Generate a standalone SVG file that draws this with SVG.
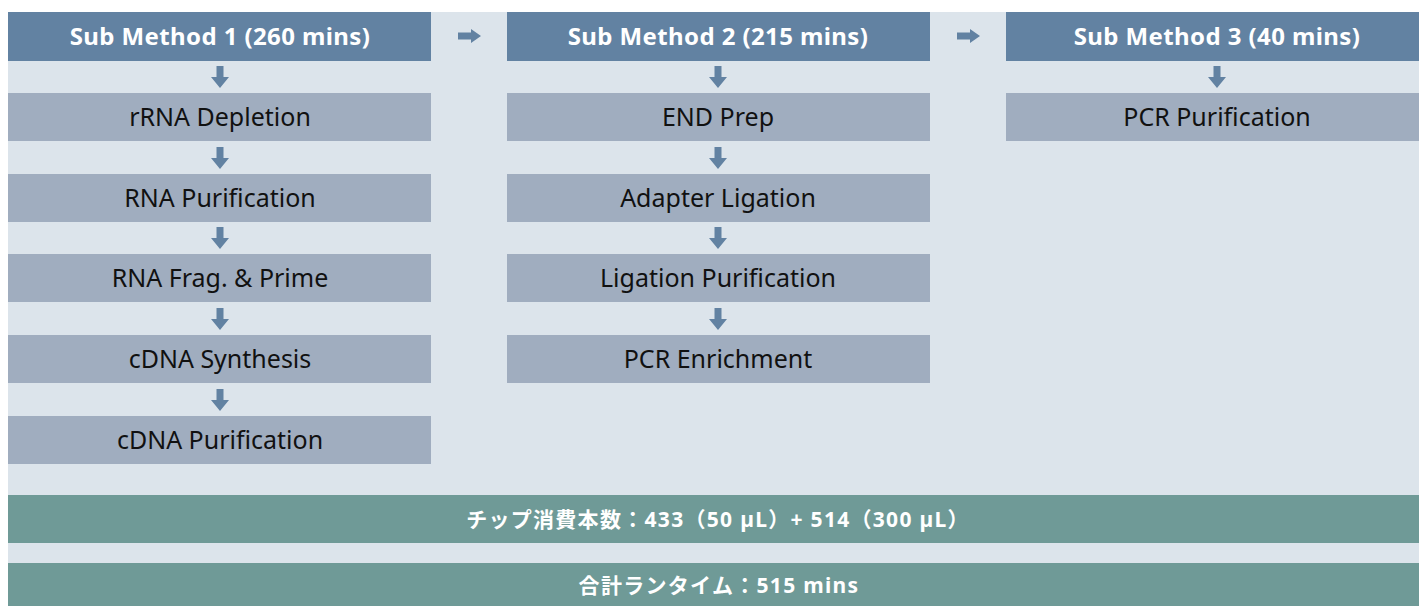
<svg xmlns="http://www.w3.org/2000/svg" width="1419" height="606" viewBox="0 0 1419 606">
<style>
.bg{fill:#dce4eb}
.hd{fill:#6282a2}
.st{fill:#a0adbf}
.tl{fill:#6f9a97}
.ar{fill:#6282a2}
.ht{font-family:"Noto Sans","Noto Sans CJK JP",sans-serif;font-weight:bold;font-size:24px;letter-spacing:0.4px;fill:#ffffff;text-anchor:middle}
.sx{font-family:"Noto Sans","Noto Sans CJK JP",sans-serif;font-size:25px;fill:#111111;text-anchor:middle}
.bt{font-family:"Noto Sans","Noto Sans CJK JP",sans-serif;font-weight:bold;font-size:21px;letter-spacing:1.3px;fill:#ffffff;text-anchor:middle}
</style>
<defs>
<path id="da" class="ar" d="M-3.5,-22 H3.5 V-11 H9 L0,0 L-9,-11 H-3.5 Z"/>
<path id="ra" class="ar" d="M0,-3.5 H13 V-7 L23,0 L13,7 V3.5 H0 Z"/>
</defs>
<rect width="1419" height="606" fill="#ffffff"/>
<rect class="bg" x="8" y="12" width="1411" height="594"/>

<g id="connectors" fill="#6282a2">
<use href="#ra" x="458" y="36"/>
<use href="#ra" x="957" y="36"/>
<use href="#da" x="220" y="88"/>
<use href="#da" x="220" y="169"/>
<use href="#da" x="220" y="249"/>
<use href="#da" x="220" y="330"/>
<use href="#da" x="220" y="411"/>
<use href="#da" x="718" y="88"/>
<use href="#da" x="718" y="169"/>
<use href="#da" x="718" y="249"/>
<use href="#da" x="718" y="330"/>
<use href="#da" x="1217" y="88"/>
</g>

<g id="sub1"><rect class="hd" x="8" y="12" width="423" height="49"/><text class="ht" x="220" y="45">Sub Method 1 (260 mins)</text></g>
<g id="sub2"><rect class="hd" x="507" y="12" width="423" height="49"/><text class="ht" x="718" y="45">Sub Method 2 (215 mins)</text></g>
<g id="sub3"><rect class="hd" x="1006" y="12" width="413" height="49"/><text class="ht" x="1217" y="45">Sub Method 3 (40 mins)</text></g>

<g id="rrna"><rect class="st" x="8" y="93" width="423" height="48"/><text class="sx" x="220" y="126">rRNA Depletion</text></g>
<g id="rnapur"><rect class="st" x="8" y="174" width="423" height="48"/><text class="sx" x="220" y="207">RNA Purification</text></g>
<g id="rnafrag"><rect class="st" x="8" y="254" width="423" height="48"/><text class="sx" x="220" y="287">RNA Frag. &amp; Prime</text></g>
<g id="cdnasyn"><rect class="st" x="8" y="335" width="423" height="48"/><text class="sx" x="220" y="368">cDNA Synthesis</text></g>
<g id="cdnapur"><rect class="st" x="8" y="416" width="423" height="48"/><text class="sx" x="220" y="449">cDNA Purification</text></g>

<g id="endprep"><rect class="st" x="507" y="93" width="423" height="48"/><text class="sx" x="718" y="126">END Prep</text></g>
<g id="adapter"><rect class="st" x="507" y="174" width="423" height="48"/><text class="sx" x="718" y="207">Adapter Ligation</text></g>
<g id="ligpur"><rect class="st" x="507" y="254" width="423" height="48"/><text class="sx" x="718" y="287">Ligation Purification</text></g>
<g id="pcrenr"><rect class="st" x="507" y="335" width="423" height="48"/><text class="sx" x="718" y="368">PCR Enrichment</text></g>

<g id="pcrpur"><rect class="st" x="1006" y="93" width="413" height="48"/><text class="sx" x="1217" y="126">PCR Purification</text></g>

<g id="tips"><rect class="tl" x="8" y="495" width="1411" height="48"/><text class="bt" x="718" y="527">チップ消費本数：433（50 µL）+ 514（300 µL）</text></g>
<g id="runtime"><rect class="tl" x="8" y="563" width="1411" height="43"/><text class="bt" x="719" y="593">合計ランタイム：515 mins</text></g>
</svg>
